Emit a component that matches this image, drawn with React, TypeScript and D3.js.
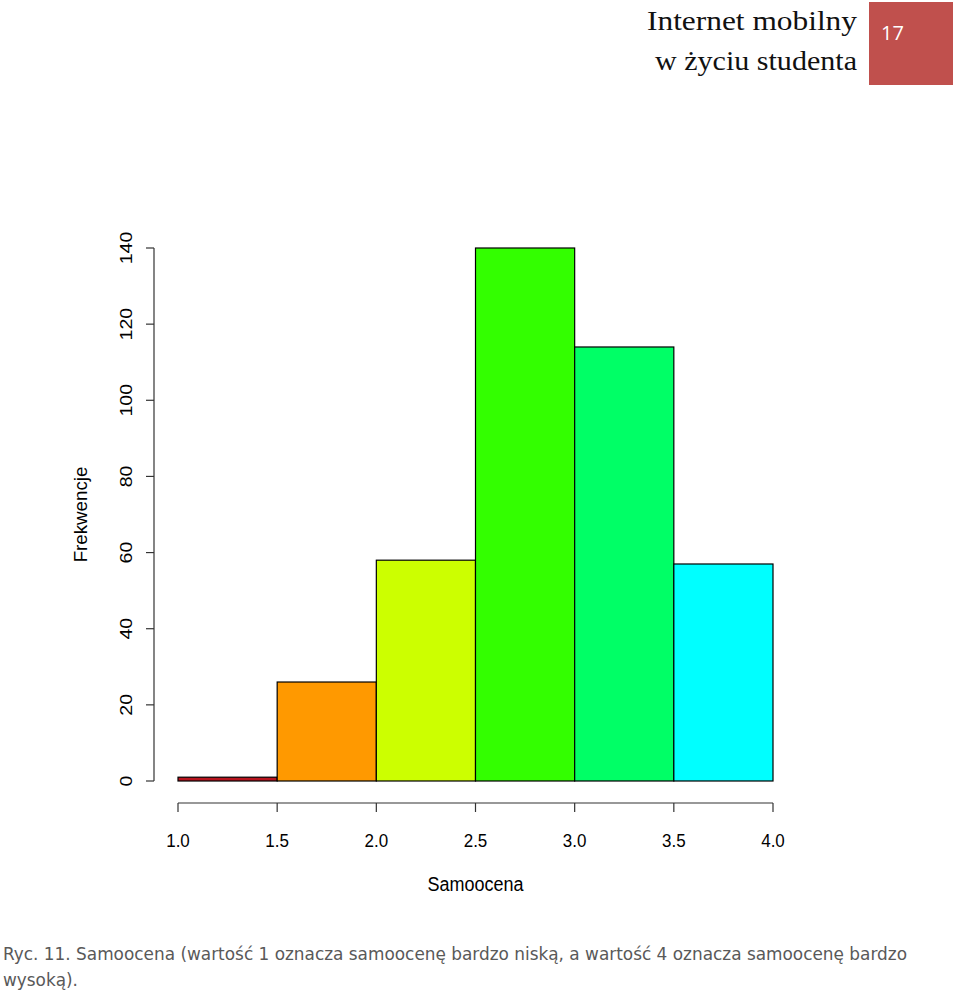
import React from "react";
import * as d3 from "d3";

const binStarts = [1.0, 1.5, 2.0, 2.5, 3.0, 3.5];
const binWidth = 0.5;
const counts = [1, 26, 58, 140, 114, 57];
const barColors = ["#B8141E", "#FF9900", "#CCFF00", "#33FF00", "#00FF66", "#00FFFF"];
const xTicks = [1.0, 1.5, 2.0, 2.5, 3.0, 3.5, 4.0];
const yTicks = [0, 20, 40, 60, 80, 100, 120, 140];
const xLabel = "Samoocena";
const yLabel = "Frekwencje";
const headerLines = ["Internet mobilny", "w życiu studenta"];
const pageNumber = "17";
const captionLines = [
  "Ryc. 11. Samoocena (wartość 1 oznacza samoocenę bardzo niską, a wartość 4 oznacza samoocenę bardzo",
  "wysoką).",
];

export default function App() {
  const W = 960, H = 993;
  const x = d3.scaleLinear().domain([1, 4]).range([178, 773]);
  const y = d3.scaleLinear().domain([0, 140]).range([781, 248]);
  const axisFont = "'Liberation Sans', Arial, sans-serif";
  return (
    <svg width={W} height={H} style={{ position: "absolute", left: 0, top: 0, background: "#fff" }}>
      {/* header */}
      <g fontFamily="'Liberation Serif', 'DejaVu Serif', serif" fill="#111">
        <text x={857} y={30} textAnchor="end" fontSize={27} textLength={210} lengthAdjust="spacingAndGlyphs">{headerLines[0]}</text>
        <text x={857} y={70} textAnchor="end" fontSize={27} textLength={202} lengthAdjust="spacingAndGlyphs">{headerLines[1]}</text>
      </g>
      <rect x={869} y={2} width={84} height={83} fill="#C0504D" />
      <text x={881} y={40} fontSize={20} fill="#fff" fontFamily="'Open Sans', sans-serif">{pageNumber}</text>

      {/* bars */}
      {counts.map((c, i) => (
        <rect key={i}
          x={x(binStarts[i])}
          y={y(c)}
          width={x(binStarts[i] + binWidth) - x(binStarts[i])}
          height={y(0) - y(c)}
          fill={barColors[i]}
          stroke="#000"
          strokeWidth={1.2} />
      ))}

      {/* y axis */}
      <g fontFamily={axisFont} fontSize={17} fill="#000">
        <line x1={154} x2={154} y1={y(0)} y2={y(140)} stroke="#333" strokeWidth={1.2} />
        {yTicks.map(t => (
          <g key={t}>
            <line x1={146} x2={154} y1={y(t)} y2={y(t)} stroke="#333" strokeWidth={1.2} />
            <text transform={`translate(132,${y(t)}) rotate(-90) scale(1.15,1)`} textAnchor="middle">{t}</text>
          </g>
        ))}
        <text transform={`translate(87,${y(70)}) rotate(-90) scale(1.04,1)`} textAnchor="middle" fontSize={18}>{yLabel}</text>
      </g>

      {/* x axis */}
      <g fontFamily={axisFont} fontSize={17} fill="#000">
        <line x1={x(1)} x2={x(4)} y1={803} y2={803} stroke="#333" strokeWidth={1.2} />
        {xTicks.map(t => (
          <g key={t}>
            <line x1={x(t)} x2={x(t)} y1={803} y2={812} stroke="#333" strokeWidth={1.2} />
            <text transform={`translate(${x(t)},847) scale(1,1.12)`} textAnchor="middle">{t.toFixed(1)}</text>
          </g>
        ))}
        <text transform={`translate(${x(2.5)},891) scale(1,1.12)`} textAnchor="middle" fontSize={18}>{xLabel}</text>
      </g>

      {/* caption */}
      <g fontFamily="'DejaVu Sans', sans-serif" fontSize={17} fill="#595959">
        <text x={3} y={960} textLength={904} lengthAdjust="spacingAndGlyphs">{captionLines[0]}</text>
        <text x={3} y={986} textLength={75} lengthAdjust="spacingAndGlyphs">{captionLines[1]}</text>
      </g>
    </svg>
  );
}
